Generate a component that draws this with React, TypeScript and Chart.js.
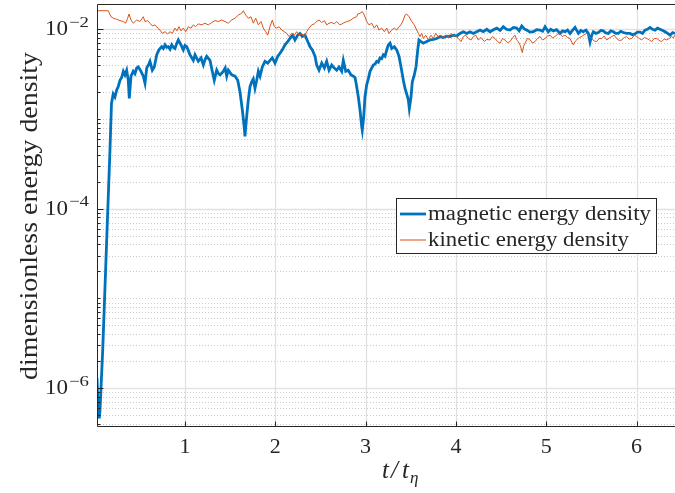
import React, { useEffect, useRef } from 'react';
import { Chart, registerables } from 'chart.js';

Chart.register(...registerables);

// ---- series: magnetic energy density (time in units of t_eta) ----
const magT = [
  0.025, 0.037, 0.051, 0.059, 0.089, 0.125, 0.169, 0.186, 0.205, 0.224,
  0.243, 0.261, 0.280, 0.298, 0.317, 0.335, 0.354, 0.372, 0.383, 0.402,
  0.427, 0.446, 0.465, 0.483, 0.513, 0.538, 0.557, 0.576, 0.595, 0.612,
  0.638, 0.660, 0.687, 0.712, 0.742, 0.760, 0.779, 0.797, 0.815, 0.834,
  0.853, 0.870, 0.889, 0.907, 0.926, 0.956, 0.981, 1.000, 1.019, 1.037,
  1.055, 1.092, 1.111, 1.147, 1.177, 1.203, 1.222, 1.240, 1.277, 1.302,
  1.324, 1.351, 1.370, 1.388, 1.424, 1.445, 1.462, 1.480, 1.517, 1.554,
  1.584, 1.609, 1.635, 1.657, 1.664, 1.679, 1.701, 1.720, 1.739, 1.756,
  1.775, 1.794, 1.812, 1.831, 1.856, 1.886, 1.916, 1.941, 1.967, 1.997,
  2.027, 2.052, 2.078, 2.107, 2.137, 2.163, 2.193, 2.218, 2.248, 2.274,
  2.299, 2.329, 2.359, 2.384, 2.410, 2.440, 2.458, 2.484, 2.514, 2.543,
  2.569, 2.595, 2.625, 2.653, 2.680, 2.705, 2.735, 2.753, 2.780, 2.808,
  2.838, 2.864, 2.883, 2.901, 2.919, 2.938, 2.957, 2.963, 2.979, 2.993,
  3.012, 3.030, 3.049, 3.067, 3.085, 3.105, 3.123, 3.141, 3.159, 3.178,
  3.196, 3.215, 3.234, 3.251, 3.270, 3.289, 3.318, 3.344, 3.370, 3.392,
  3.418, 3.436, 3.455, 3.473, 3.484, 3.503, 3.517, 3.539, 3.558, 3.577,
  3.591, 3.613, 3.639, 3.677, 3.713, 3.750, 3.787, 3.824, 3.860, 3.898,
  3.935, 3.971, 4.009, 4.045, 4.082, 4.120, 4.156, 4.193, 4.230, 4.267,
  4.303, 4.341, 4.378, 4.415, 4.452, 4.490, 4.525, 4.560, 4.599, 4.636,
  4.673, 4.700, 4.729, 4.757, 4.784, 4.820, 4.857, 4.894, 4.931, 4.960,
  4.987, 5.023, 5.050, 5.079, 5.115, 5.153, 5.180, 5.208, 5.236, 5.264,
  5.290, 5.319, 5.356, 5.383, 5.411, 5.440, 5.466, 5.485, 5.504, 5.522,
  5.550, 5.577, 5.605, 5.632, 5.660, 5.688, 5.715, 5.743, 5.770, 5.798,
  5.826, 5.854, 5.890, 5.928, 5.955, 5.983, 6.010, 6.039, 6.066, 6.094,
  6.120, 6.149, 6.177, 6.205, 6.232, 6.260, 6.290, 6.316, 6.345, 6.371,
  6.400, 6.426,
];
const magE = [
  1.3e-6, 6.5e-7, 4.6e-7, 5.7e-7, 2.7e-6, 2.7e-5, 4.5e-4, 1.5e-3, 1.9e-3, 1.76e-3,
  2.1e-3, 2.3e-3, 2.7e-3, 2.9e-3, 3.4e-3, 3.1e-3, 3.5e-3, 2.7e-3, 1.7e-3, 3.0e-3,
  3.4e-3, 3.2e-3, 3.7e-3, 3.8e-3, 3.4e-3, 3.0e-3, 2.5e-3, 3.7e-3, 4.0e-3, 4.4e-3,
  3.5e-3, 3.8e-3, 5.2e-3, 5.9e-3, 6.4e-3, 6.1e-3, 6.7e-3, 6.3e-3, 6.4e-3, 6.0e-3,
  6.7e-3, 6.3e-3, 6.1e-3, 6.9e-3, 7.6e-3, 6.7e-3, 5.9e-3, 6.6e-3, 6.4e-3, 5.8e-3,
  5.2e-3, 4.5e-3, 5.2e-3, 4.4e-3, 4.8e-3, 4.0e-3, 4.6e-3, 5.0e-3, 4.5e-3, 3.4e-3,
  2.7e-3, 3.5e-3, 3.2e-3, 3.1e-3, 3.4e-3, 3.7e-3, 3.0e-3, 3.5e-3, 3.1e-3, 3.0e-3,
  2.7e-3, 2.0e-3, 1.26e-3, 7.9e-4, 6.4e-4, 9.7e-4, 1.63e-3, 2.3e-3, 2.6e-3, 2.8e-3,
  2.2e-3, 2.7e-3, 3.4e-3, 3.0e-3, 3.8e-3, 4.4e-3, 4.2e-3, 4.5e-3, 4.8e-3, 4.2e-3,
  5.0e-3, 5.4e-3, 5.9e-3, 6.7e-3, 7.3e-3, 7.9e-3, 8.6e-3, 7.6e-3, 8.6e-3, 9.0e-3,
  8.3e-3, 8.6e-3, 7.3e-3, 6.4e-3, 5.9e-3, 5.0e-3, 4.0e-3, 3.5e-3, 4.2e-3, 3.7e-3,
  4.4e-3, 3.5e-3, 4.0e-3, 3.7e-3, 3.5e-3, 3.8e-3, 3.4e-3, 4.5e-3, 3.4e-3, 3.5e-3,
  3.1e-3, 3.0e-3, 2.9e-3, 2.3e-3, 1.77e-3, 1.26e-3, 8.2e-4, 7.5e-4, 1.06e-3, 1.77e-3,
  2.4e-3, 2.8e-3, 3.4e-3, 3.7e-3, 4.0e-3, 4.1e-3, 4.4e-3, 4.3e-3, 4.8e-3, 4.7e-3,
  5.2e-3, 5.0e-3, 5.9e-3, 6.7e-3, 7.0e-3, 6.1e-3, 6.4e-3, 5.9e-3, 5.0e-3, 3.8e-3,
  2.7e-3, 2.2e-3, 1.9e-3, 1.63e-3, 1.31e-3, 1.77e-3, 2.6e-3, 3.1e-3, 3.8e-3, 5.9e-3,
  7.6e-3, 7.3e-3, 7.0e-3, 7.3e-3, 7.6e-3, 7.7e-3, 7.9e-3, 8.3e-3, 8.1e-3, 8.4e-3,
  8.3e-3, 8.6e-3, 8.4e-3, 9.0e-3, 9.4e-3, 9.0e-3, 9.4e-3, 9.0e-3, 9.4e-3, 9.8e-3,
  9.4e-3, 1.0e-2, 9.4e-3, 9.9e-3, 1.03e-2, 9.7e-3, 1.07e-2, 1.0e-2, 9.8e-3, 1.05e-2,
  1.03e-2, 9.6e-3, 1.09e-2, 1.01e-2, 9.8e-3, 9.3e-3, 9.4e-3, 9.9e-3, 9.8e-3, 9.5e-3,
  1.07e-2, 9.4e-3, 1.0e-2, 9.6e-3, 9.9e-3, 9.0e-3, 9.6e-3, 9.4e-3, 9.8e-3, 9.0e-3,
  9.7e-3, 1.05e-2, 9.0e-3, 9.7e-3, 9.4e-3, 9.8e-3, 9.0e-3, 7.2e-3, 8.6e-3, 9.4e-3,
  9.0e-3, 9.2e-3, 9.7e-3, 9.6e-3, 9.1e-3, 9.0e-3, 9.6e-3, 9.4e-3, 9.0e-3, 9.0e-3,
  9.5e-3, 9.2e-3, 9.0e-3, 9.0e-3, 8.7e-3, 8.9e-3, 9.3e-3, 9.3e-3, 9.0e-3, 9.8e-3,
  1.0e-2, 1.05e-2, 1.0e-2, 9.8e-3, 1.03e-2, 1.0e-2, 9.7e-3, 9.4e-3, 9.0e-3, 8.6e-3,
  9.2e-3, 9.0e-3,
];

// ---- series: kinetic energy density ----
const kinT = [
  0.025, 0.151, 0.181, 0.206, 0.244, 0.280, 0.317, 0.343, 0.365, 0.380,
  0.402, 0.427, 0.465, 0.502, 0.538, 0.557, 0.587, 0.612, 0.638, 0.668,
  0.698, 0.723, 0.749, 0.779, 0.808, 0.834, 0.859, 0.889, 0.911, 0.934,
  0.956, 0.981, 1.008, 1.037, 1.066, 1.092, 1.118, 1.147, 1.185, 1.221,
  1.258, 1.296, 1.332, 1.369, 1.406, 1.443, 1.480, 1.517, 1.554, 1.590,
  1.628, 1.646, 1.672, 1.701, 1.731, 1.756, 1.783, 1.812, 1.842, 1.867,
  1.894, 1.916, 1.941, 1.967, 1.989, 2.016, 2.041, 2.071, 2.100, 2.126,
  2.152, 2.182, 2.210, 2.237, 2.262, 2.292, 2.321, 2.348, 2.373, 2.403,
  2.432, 2.458, 2.484, 2.514, 2.543, 2.569, 2.595, 2.625, 2.653, 2.680,
  2.716, 2.753, 2.791, 2.827, 2.864, 2.901, 2.912, 2.938, 2.963, 2.986,
  3.012, 3.038, 3.068, 3.096, 3.123, 3.148, 3.178, 3.207, 3.234, 3.259,
  3.289, 3.318, 3.344, 3.370, 3.392, 3.418, 3.436, 3.455, 3.481, 3.511,
  3.539, 3.566, 3.584, 3.602, 3.621, 3.639, 3.666, 3.694, 3.724, 3.750,
  3.776, 3.805, 3.835, 3.860, 3.887, 3.916, 3.946, 3.971, 3.998, 4.027,
  4.056, 4.082, 4.109, 4.137, 4.167, 4.193, 4.219, 4.248, 4.278, 4.314,
  4.341, 4.378, 4.405, 4.433, 4.460, 4.488, 4.516, 4.544, 4.571, 4.599,
  4.626, 4.654, 4.672, 4.691, 4.713, 4.735, 4.750, 4.765, 4.792, 4.820,
  4.848, 4.876, 4.903, 4.931, 4.959, 4.987, 5.014, 5.042, 5.070, 5.097,
  5.125, 5.153, 5.180, 5.208, 5.236, 5.264, 5.282, 5.300, 5.319, 5.338,
  5.365, 5.393, 5.420, 5.448, 5.476, 5.504, 5.531, 5.559, 5.587, 5.615,
  5.642, 5.670, 5.698, 5.725, 5.753, 5.781, 5.808, 5.836, 5.864, 5.891,
  5.919, 5.947, 5.975, 6.002, 6.030, 6.058, 6.085, 6.113, 6.141, 6.168,
  6.196, 6.224, 6.251, 6.279, 6.307, 6.334, 6.362, 6.390, 6.408, 6.426,
];
const kinE = [
  1.61e-2, 1.61e-2, 1.38e-2, 1.33e-2, 1.29e-2, 1.25e-2, 1.22e-2, 1.17e-2, 1.33e-2, 1.48e-2,
  1.27e-2, 1.17e-2, 1.27e-2, 1.22e-2, 1.38e-2, 1.22e-2, 1.25e-2, 1.17e-2, 1.09e-2, 1.12e-2,
  1.03e-2, 9.8e-3, 9.0e-3, 9.4e-3, 8.9e-3, 9.4e-3, 9.0e-3, 1.03e-2, 9.6e-3, 1.07e-2,
  9.6e-3, 1.03e-2, 9.4e-3, 1.07e-2, 1.03e-2, 1.12e-2, 1.07e-2, 1.15e-2, 1.12e-2, 1.17e-2,
  1.12e-2, 1.19e-2, 1.25e-2, 1.22e-2, 1.27e-2, 1.22e-2, 1.17e-2, 1.27e-2, 1.33e-2, 1.44e-2,
  1.51e-2, 1.61e-2, 1.44e-2, 1.33e-2, 1.38e-2, 1.17e-2, 1.33e-2, 1.12e-2, 1.22e-2, 1.03e-2,
  9.4e-3, 8.6e-3, 1.07e-2, 1.27e-2, 1.07e-2, 1.03e-2, 1.07e-2, 9.8e-3, 9.4e-3, 9.0e-3,
  8.3e-3, 9.0e-3, 8.6e-3, 9.4e-3, 8.6e-3, 9.0e-3, 8.3e-3, 9.4e-3, 1.03e-2, 1.12e-2,
  1.15e-2, 1.22e-2, 1.27e-2, 1.19e-2, 1.25e-2, 1.12e-2, 1.17e-2, 1.19e-2, 1.15e-2, 1.22e-2,
  1.12e-2, 1.17e-2, 1.22e-2, 1.25e-2, 1.33e-2, 1.38e-2, 1.48e-2, 1.51e-2, 1.57e-2, 1.44e-2,
  1.22e-2, 1.12e-2, 1.17e-2, 1.03e-2, 1.12e-2, 9.8e-3, 1.03e-2, 9.4e-3, 1.03e-2, 9.0e-3,
  9.8e-3, 1.03e-2, 9.8e-3, 1.07e-2, 1.12e-2, 1.27e-2, 1.44e-2, 1.48e-2, 1.38e-2, 1.22e-2,
  1.12e-2, 9.8e-3, 9.0e-3, 8.3e-3, 9.0e-3, 7.9e-3, 8.6e-3, 7.6e-3, 8.6e-3, 7.9e-3,
  9.0e-3, 8.3e-3, 8.6e-3, 7.9e-3, 8.6e-3, 8.3e-3, 9.0e-3, 8.3e-3, 8.6e-3, 7.9e-3,
  7.3e-3, 8.3e-3, 8.6e-3, 7.9e-3, 7.6e-3, 8.3e-3, 8.6e-3, 7.6e-3, 8.1e-3, 7.3e-3,
  7.7e-3, 7.6e-3, 8.3e-3, 7.9e-3, 7.3e-3, 7.0e-3, 7.9e-3, 7.6e-3, 7.1e-3, 7.3e-3,
  8.0e-3, 8.6e-3, 7.6e-3, 7.3e-3, 6.6e-3, 5.5e-3, 6.5e-3, 7.0e-3, 7.9e-3, 7.7e-3,
  7.0e-3, 7.3e-3, 7.9e-3, 8.3e-3, 7.6e-3, 7.9e-3, 8.4e-3, 8.6e-3, 8.0e-3, 8.3e-3,
  8.8e-3, 9.0e-3, 8.3e-3, 8.6e-3, 8.1e-3, 7.9e-3, 7.2e-3, 6.7e-3, 7.3e-3, 7.6e-3,
  8.1e-3, 8.3e-3, 8.7e-3, 9.0e-3, 8.3e-3, 7.9e-3, 7.4e-3, 7.3e-3, 7.9e-3, 7.9e-3,
  8.4e-3, 7.6e-3, 8.0e-3, 8.3e-3, 8.6e-3, 7.9e-3, 7.5e-3, 7.6e-3, 8.1e-3, 8.3e-3,
  7.8e-3, 7.9e-3, 8.6e-3, 8.3e-3, 7.9e-3, 7.6e-3, 8.1e-3, 7.9e-3, 7.6e-3, 7.3e-3,
  7.9e-3, 7.9e-3, 7.5e-3, 7.3e-3, 7.8e-3, 7.6e-3, 7.9e-3, 8.3e-3, 8.0e-3, 8.6e-3,
];

// ---- axes ----
const X_MIN = 0.0255;
const X_MAX = 6.426;
const Y_MIN = 3.78e-7;
const Y_MAX = 1.914e-2;
const xTickValues = [1, 2, 3, 4, 5, 6];
const yLabelExponents = [-6, -4, -2];

const X_TITLE_PARTS = ['t', '/', 't'];
const X_TITLE_SUB = 'η';
const Y_TITLE = 'dimensionless energy density';

const BLUE = '#0072BD';
const ORANGE = '#D95319';
const INK = '#262626';
const SERIF = '"Liberation Serif", "DejaVu Serif", serif';

// Every 1..9 x 10^k inside the y range; labelled decades are solid lines.
function logGridValues(min: number, max: number) {
  const out: { v: number; major: boolean }[] = [];
  for (let k = Math.floor(Math.log10(min)); k <= Math.ceil(Math.log10(max)); k++) {
    for (let m = 1; m <= 9; m++) {
      const v = m * Math.pow(10, k);
      if (v >= min && v <= max) out.push({ v, major: m === 1 && yLabelExponents.includes(k) });
    }
  }
  return out;
}

const px = (v: number) => Math.round(v) + 0.5;

// Draws text stretched horizontally so that it spans `width` pixels.
function fitText(
  ctx: CanvasRenderingContext2D,
  text: string,
  x: number,
  y: number,
  font: string,
  width: number,
  align: CanvasTextAlign,
) {
  ctx.font = font;
  const w = ctx.measureText(text).width;
  ctx.save();
  ctx.translate(x, y);
  ctx.scale(width / w, 1);
  ctx.textAlign = align;
  ctx.fillText(text, 0, 0);
  ctx.restore();
}

const axesPlugin = {
  id: 'matlabAxes',
  beforeDatasetsDraw(chart: any) {
    const { ctx, chartArea: a, scales } = chart;
    const xs = scales.x;
    const ys = scales.y;
    const grid = logGridValues(Y_MIN, Y_MAX);
    ctx.save();
    ctx.beginPath();
    ctx.rect(a.left, a.top, a.right - a.left, a.bottom - a.top);
    ctx.clip();
    ctx.lineWidth = 1;
    // minor (dotted) y grid
    ctx.strokeStyle = 'rgba(38,38,38,0.25)';
    ctx.setLineDash([1, 2]);
    for (const g of grid) {
      if (g.major) continue;
      const y = px(ys.getPixelForValue(g.v));
      ctx.beginPath();
      ctx.moveTo(a.left, y);
      ctx.lineTo(a.right, y);
      ctx.stroke();
    }
    ctx.setLineDash([]);
    // major grid
    ctx.strokeStyle = '#e1e1e1';
    ctx.lineWidth = 1.3;
    for (const g of grid) {
      if (!g.major) continue;
      const y = px(ys.getPixelForValue(g.v));
      ctx.beginPath();
      ctx.moveTo(a.left, y);
      ctx.lineTo(a.right, y);
      ctx.stroke();
    }
    for (const t of xTickValues) {
      const x = px(xs.getPixelForValue(t));
      ctx.beginPath();
      ctx.moveTo(x, a.top);
      ctx.lineTo(x, a.bottom);
      ctx.stroke();
    }
    ctx.restore();
  },
  afterDatasetsDraw(chart: any) {
    const { ctx, chartArea: a, scales } = chart;
    const xs = scales.x;
    const ys = scales.y;
    const grid = logGridValues(Y_MIN, Y_MAX);
    ctx.save();
    ctx.strokeStyle = INK;
    ctx.lineWidth = 1;
    // box lines
    const L = px(a.left);
    const T = px(a.top);
    const B = px(a.bottom);
    ctx.beginPath();
    ctx.moveTo(L, B);
    ctx.lineTo(L, T);
    ctx.lineTo(a.right, T);
    ctx.moveTo(L, B);
    ctx.lineTo(a.right, B);
    ctx.stroke();
    // y ticks (inward)
    for (const g of grid) {
      const y = px(ys.getPixelForValue(g.v));
      const len = g.major ? 6 : 3;
      ctx.beginPath();
      ctx.moveTo(L, y);
      ctx.lineTo(L + len, y);
      ctx.stroke();
    }
    // x ticks (inward, bottom and top)
    for (const t of xTickValues) {
      const x = px(xs.getPixelForValue(t));
      ctx.beginPath();
      ctx.moveTo(x, B);
      ctx.lineTo(x, B - 5);
      ctx.moveTo(x, T);
      ctx.lineTo(x, T + 5);
      ctx.stroke();
    }

    ctx.fillStyle = INK;
    ctx.textBaseline = 'alphabetic';
    // x tick labels
    ctx.font = `22px ${SERIF}`;
    ctx.textAlign = 'center';
    for (const t of xTickValues) {
      ctx.fillText(String(t), xs.getPixelForValue(t), a.bottom + 27);
    }
    // y tick labels: 10^k
    for (const k of yLabelExponents) {
      const y = ys.getPixelForValue(Math.pow(10, k));
      fitText(ctx, '10', 45, y + 6, `22px ${SERIF}`, 23, 'left');
      fitText(ctx, '\u2212' + Math.abs(k), 69, y - 2.5, `15px ${SERIF}`, 20, 'left');
    }
    // x title: t/t_eta
    ctx.textAlign = 'left';
    ctx.font = `italic 25px ${SERIF}`;
    ctx.fillText(X_TITLE_PARTS[0], 382, 478);
    ctx.fillText(X_TITLE_PARTS[1], 391, 478);
    ctx.fillText(X_TITLE_PARTS[2], 402, 478);
    ctx.font = `italic 17px ${SERIF}`;
    ctx.fillText(X_TITLE_SUB, 410, 483);
    // y title
    ctx.save();
    ctx.translate(37, 216);
    ctx.rotate(-Math.PI / 2);
    fitText(ctx, Y_TITLE, 0, 0, `26px ${SERIF}`, 328, 'center');
    ctx.restore();

    // legend
    const datasets = chart.data.datasets;
    const boxL = 396.5;
    const boxT = 198.5;
    const boxW = 260;
    const boxH = 55;
    ctx.fillStyle = '#ffffff';
    ctx.fillRect(boxL, boxT, boxW, boxH);
    ctx.strokeStyle = INK;
    ctx.lineWidth = 1;
    ctx.strokeRect(boxL, boxT, boxW, boxH);
    ctx.textBaseline = 'middle';
    const legendWidths = [223, 201];
    datasets.forEach((ds: any, i: number) => {
      const y = 214 + i * 26;
      ctx.strokeStyle = ds.borderColor;
      ctx.lineWidth = ds.borderWidth;
      ctx.beginPath();
      ctx.moveTo(400, y);
      ctx.lineTo(426, y);
      ctx.stroke();
      ctx.fillStyle = INK;
      fitText(ctx, ds.label, 428, y + 1, `20.5px ${SERIF}`, legendWidths[i], 'left');
    });
    ctx.restore();
  },
};

export default function App() {
  const canvasRef = useRef<HTMLCanvasElement | null>(null);

  useEffect(() => {
    const prevMargin = document.body.style.margin;
    document.body.style.margin = '0';
    const canvas = canvasRef.current;
    if (!canvas) return;
    const chart = new Chart(canvas, {
      type: 'line',
      data: {
        datasets: [
          {
            label: 'magnetic energy density',
            data: magT.map((t, i) => ({ x: t, y: magE[i] })),
            borderColor: BLUE,
            borderWidth: 2.8,
            pointRadius: 0,
            tension: 0,
            order: 1,
          },
          {
            label: 'kinetic energy density',
            data: kinT.map((t, i) => ({ x: t, y: kinE[i] })),
            borderColor: ORANGE,
            borderWidth: 1,
            pointRadius: 0,
            tension: 0,
            order: 0,
          },
        ],
      },
      options: {
        animation: false,
        responsive: false,
        devicePixelRatio: 1,
        events: [],
        layout: { padding: { left: 97, right: 0, top: 4, bottom: 67 } },
        plugins: {
          legend: { display: false },
          tooltip: { enabled: false },
        },
        scales: {
          x: { type: 'linear', min: X_MIN, max: X_MAX, display: false },
          y: { type: 'logarithmic', min: Y_MIN, max: Y_MAX, display: false },
        },
      },
      plugins: [axesPlugin],
    });
    return () => {
      chart.destroy();
      document.body.style.margin = prevMargin;
    };
  }, []);

  return (
    <div style={{ width: 675, height: 493, background: '#ffffff' }}>
      <canvas ref={canvasRef} width={675} height={493} />
    </div>
  );
}
